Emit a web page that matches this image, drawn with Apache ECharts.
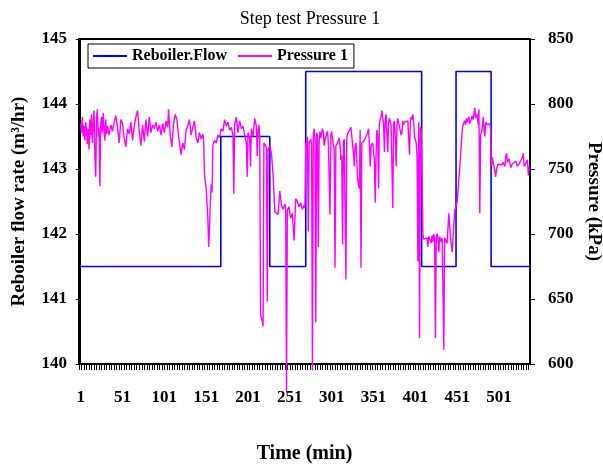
<!DOCTYPE html>
<html><head><meta charset="utf-8">
<script src="https://cdn.jsdelivr.net/npm/echarts@6/dist/echarts.min.js"></script>
<style>html,body{margin:0;padding:0;background:#fff}#c{width:603px;height:466px}</style>
</head><body><div id="c"></div>
<script>
// ---- data ----
const xLabelValues = [1, 51, 101, 151, 201, 251, 301, 351, 401, 451, 501];
const leftTicks = [140, 141, 142, 143, 144, 145];
const rightTicks = [600, 650, 700, 750, 800, 850];

const flowTime  = [1, 168.5, 227, 270, 408.5, 449.6, 491.5, 538];
const flowValue = [141.5, 143.5, 141.5, 144.5, 141.5, 144.5, 141.5, 141.5];

const pressureTime = [
1,2,3,4,5,6,7,8,9,10,11,12,13,14,15,16,17,18,19,20,21,22,23,24,25,26,27,28,29,30,31,32,33,35,37,39,41,43,45,47,49,51,53,55,57,59,61,63,65,67,69,71,73,75,77,79,81,83,85,87,89,91,93,95,97,99,101,103,105,106,108,110,112,114,116,118,120,121,123,125,127,129,131,133,135,137,139,141,143,145,147,148,149,151,153,154,155,156,157,158,159,161,163,165,167,169,171,173,175,177,179,181,183,184,185,187,189,191,193,195,197,199,200,201,203,204,205,207,209,211,212,213,214,215,216,218,219,220,222,223,224,225,227,229,231,233,235,237,239,241,243,245,246,247,248,250,252,254,256,258,260,262,264,266,268,269,
270,271,272,273,274,276,277,278,279,280,281,282,283,284,285,286,287,288,290,291,292,294,296,297,299,300,301,303,304,305,306,308,310,311,312,313,314,315,316,318,319,320,322,324,325,327,328,329,330,332,333,334,335,336,337,338,340,342,344,345,346,347,348,350,351,352,353,354,355,356,357,358,359,360,361,362,363,364,365,366,367,368,369,370,372,374,375,376,377,378,379,380,382,384,385,386,387,388,390,392,394,395,396,397,398,399,400,402,403,404,405,406,407,408,409,410,411,412,413,415,416,417,419,420,421,422,423,424,425,426,427,428,429,430,431,432,433,434,435,436,437,439,441,443,444,445,446,447,448,449,451,453,455,457,458,460,461,462,463,465,466,467,469,470,471,472,473,474,475,476,477,478,479,480,481,482,483,484,485,487,489,490,491,492,493,494,495,496,497,498,500,502,504,506,508,509,510,511,513,515,517,519,521,523,525,527,529,530,531,533,535,536,537
];
const pressureValue = [
785,778,790,775,783,772,786,780,769,781,765,788,776,792,770,784,795,760,744,790,796,775,782,737,785,790,778,793,780,772,788,777,783,776,784,779,786,791,782,770,788,785,774,767,781,777,786,772,783,790,795,779,768,784,771,788,775,790,778,784,781,786,779,784,776,785,778,787,782,796,776,767,785,792,788,775,766,761,770,765,780,783,788,776,782,787,774,770,778,773,777,772,745,735,712,690,705,725,738,732,768,772,770,776,774,781,779,788,783,786,780,782,776,731,784,790,778,787,781,783,776,770,744,778,773,752,781,775,789,783,760,780,784,775,638,633,629,770,768,766,648,765,768,762,745,717,718,715,733,722,719,723,720,578,718,721,712,716,695,727,725,721,724,719,722,720,
771,765,775,702,770,773,768,595,776,781,772,632,778,775,690,770,779,774,781,778,768,775,779,770,715,776,779,768,765,674,768,770,774,768,757,760,692,770,773,665,774,777,778,782,783,762,752,768,770,742,738,735,780,674,770,769,772,775,778,781,770,752,768,770,762,758,724,760,780,775,735,785,788,790,795,794,785,763,788,792,778,763,786,789,784,720,785,787,775,752,784,789,788,776,778,787,784,786,785,787,761,787,790,788,792,785,775,770,760,679,786,620,782,780,740,700,696,697,695,697,690,698,697,693,699,694,700,697,620,698,700,697,686,698,697,694,697,657,611,697,696,693,716,697,698,686,697,697,718,720,725,742,760,780,784,787,784,789,786,790,785,786,791,788,787,797,789,790,792,784,796,716,776,778,782,790,781,775,786,784,785,785,780,752,759,755,752,748,744,750,754,754,753,755,752,760,762,755,758,751,754,753,756,752,754,755,759,762,752,753,757,745,752
];

// ---- chart ----
const xTickValues = [];
for (let t = -1; t <= 538; t += 3) xTickValues.push(t);

const FONT = 'Liberation Serif';
const chart = echarts.init(document.getElementById('c'), null, {renderer: 'canvas'});
chart.setOption({
  animation: false,
  backgroundColor: '#fff',
  title: {
    text: 'Step test Pressure 1', left: 305, top: 5, textAlign: 'center',
    textStyle: {fontFamily: FONT, fontSize: 18, fontWeight: 'normal', color: '#000'}
  },
  legend: {
    left: 88, top: 44, padding: [4, 6, 4, 5],
    borderColor: '#000', borderWidth: 1,
    icon: 'rect', itemWidth: 34, itemHeight: 2, itemGap: 11,
    textStyle: {fontFamily: FONT, fontSize: 16, fontWeight: 'bold', color: '#000'},
    data: ['Reboiler.Flow', 'Pressure 1']
  },
  grid: {left: 79, right: 73, top: 39, bottom: 102, show: true, borderColor: '#000', borderWidth: 2,
         outerBoundsMode: 'none', containLabel: false},
  xAxis: {
    type: 'value', min: -1, max: 538,
    name: 'Time (min)', nameLocation: 'middle', nameGap: 80,
    nameTextStyle: {fontFamily: FONT, fontSize: 20, fontWeight: 'bold', color: '#000'},
    axisLine: {lineStyle: {color: '#000', width: 2}},
    axisTick: {show: true, length: 6, customValues: xTickValues, lineStyle: {color: '#000', width: 1}},
    axisLabel: {customValues: xLabelValues, margin: 25, fontFamily: FONT, fontSize: 17, fontWeight: 'bold', color: '#000'},
    splitLine: {show: false}
  },
  yAxis: [{
    type: 'value', min: 140, max: 145, interval: 1, position: 'left',
    name: 'Reboiler flow rate (m³/hr)', nameLocation: 'middle', nameGap: 50,
    nameTextStyle: {fontFamily: FONT, fontSize: 19, fontWeight: 'bold', color: '#000'},
    axisLine: {show: true, lineStyle: {color: '#000', width: 2}},
    axisTick: {show: true, length: 4, lineStyle: {color: '#000'}},
    axisLabel: {margin: 12, fontFamily: FONT, fontSize: 17, fontWeight: 'bold', color: '#000'},
    splitLine: {show: false}
  }, {
    type: 'value', min: 600, max: 850, interval: 50, position: 'right',
    name: 'Pressure (kPa)', nameLocation: 'middle', nameGap: 52, nameRotate: -90,
    nameTextStyle: {fontFamily: FONT, fontSize: 19, fontWeight: 'bold', color: '#000'},
    axisLine: {show: true, lineStyle: {color: '#000', width: 2}},
    axisTick: {show: true, inside: false, length: 5, lineStyle: {color: '#000'}},
    axisLabel: {margin: 18, fontFamily: FONT, fontSize: 17, fontWeight: 'bold', color: '#000'},
    splitLine: {show: false}
  }],
  series: [{
    name: 'Reboiler.Flow', type: 'line', yAxisIndex: 0, step: 'end',
    showSymbol: false, symbol: 'none', clip: false,
    lineStyle: {color: '#0000FF', width: 1.6}, itemStyle: {color: '#0000FF'},
    data: flowTime.map((t, i) => [t, flowValue[i]])
  }, {
    name: 'Pressure 1', type: 'line', yAxisIndex: 1,
    showSymbol: false, symbol: 'none', clip: false,
    lineStyle: {color: '#FF00FF', width: 1.4}, itemStyle: {color: '#FF00FF'},
    data: pressureTime.map((t, i) => [t, pressureValue[i]])
  }]
});
</script></body></html>
